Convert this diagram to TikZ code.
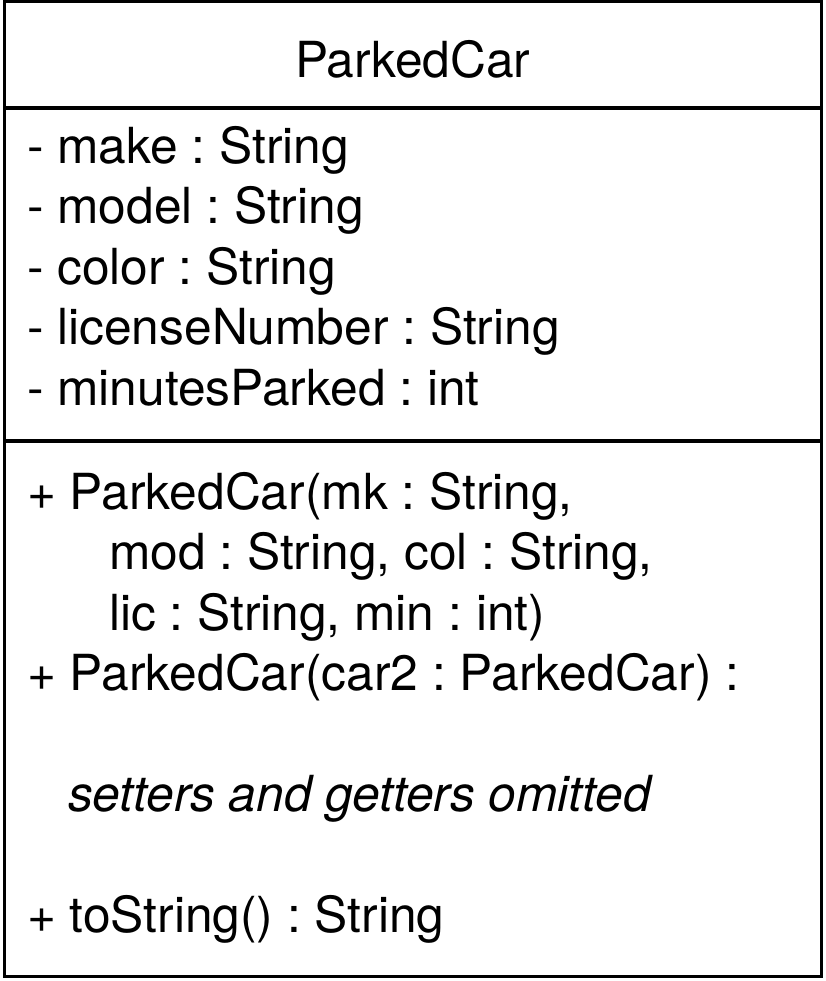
\documentclass[tikz,border=0pt]{standalone}
\usepackage{fontspec}
\setmainfont{TeX Gyre Heros}
\usetikzlibrary{positioning}
\frenchspacing

\begin{document}
\begin{tikzpicture}[x=1pt, y=-1pt,
    CB/.style={rectangle, draw=black, line width=3.5pt, fill=white,
      minimum width=817pt, inner sep=0pt, outer sep=0pt},
    CT/.style={inner sep=0pt, outer sep=0pt, align=left,
      font=\fontsize{49.7}{60.5}\selectfont}
  ]
    \useasboundingbox (0,0) rectangle (825,981);

    %% compartments
    \node[CB, minimum height=106.5pt] (head) at (412.75,54.75) {};
    \node[CB, minimum height=333pt, below=0pt of head] (attrs) {};
    \node[CB, minimum height=535.5pt, below=0pt of attrs] (ops) {};

    %% class name
    \node[CT, anchor=base] (cname) at (412.75,78) {ParkedCar};

    %% attributes (base = last line)
    \node[CT, anchor=base west] (attrtxt) at (27,405)
      {- make : String\\- model : String\\- color : String\\
       - licenseNumber : String\\- minutesParked : int};

    %% operations (base = last line)
    \node[CT, anchor=base west] (optxt) at (27,932.5)
      {+ ParkedCar(mk : String,\\
       \hspace*{82pt}mod : String, col : String,\\
       \hspace*{82pt}lic : String, min : int)\\
       + ParkedCar(car2 : ParkedCar) :\\[60.5pt]
       \hspace*{41pt}\textit{setters and getters omitted}\\[60.5pt]
       + toString() : String};
  \end{tikzpicture}
\end{document}
